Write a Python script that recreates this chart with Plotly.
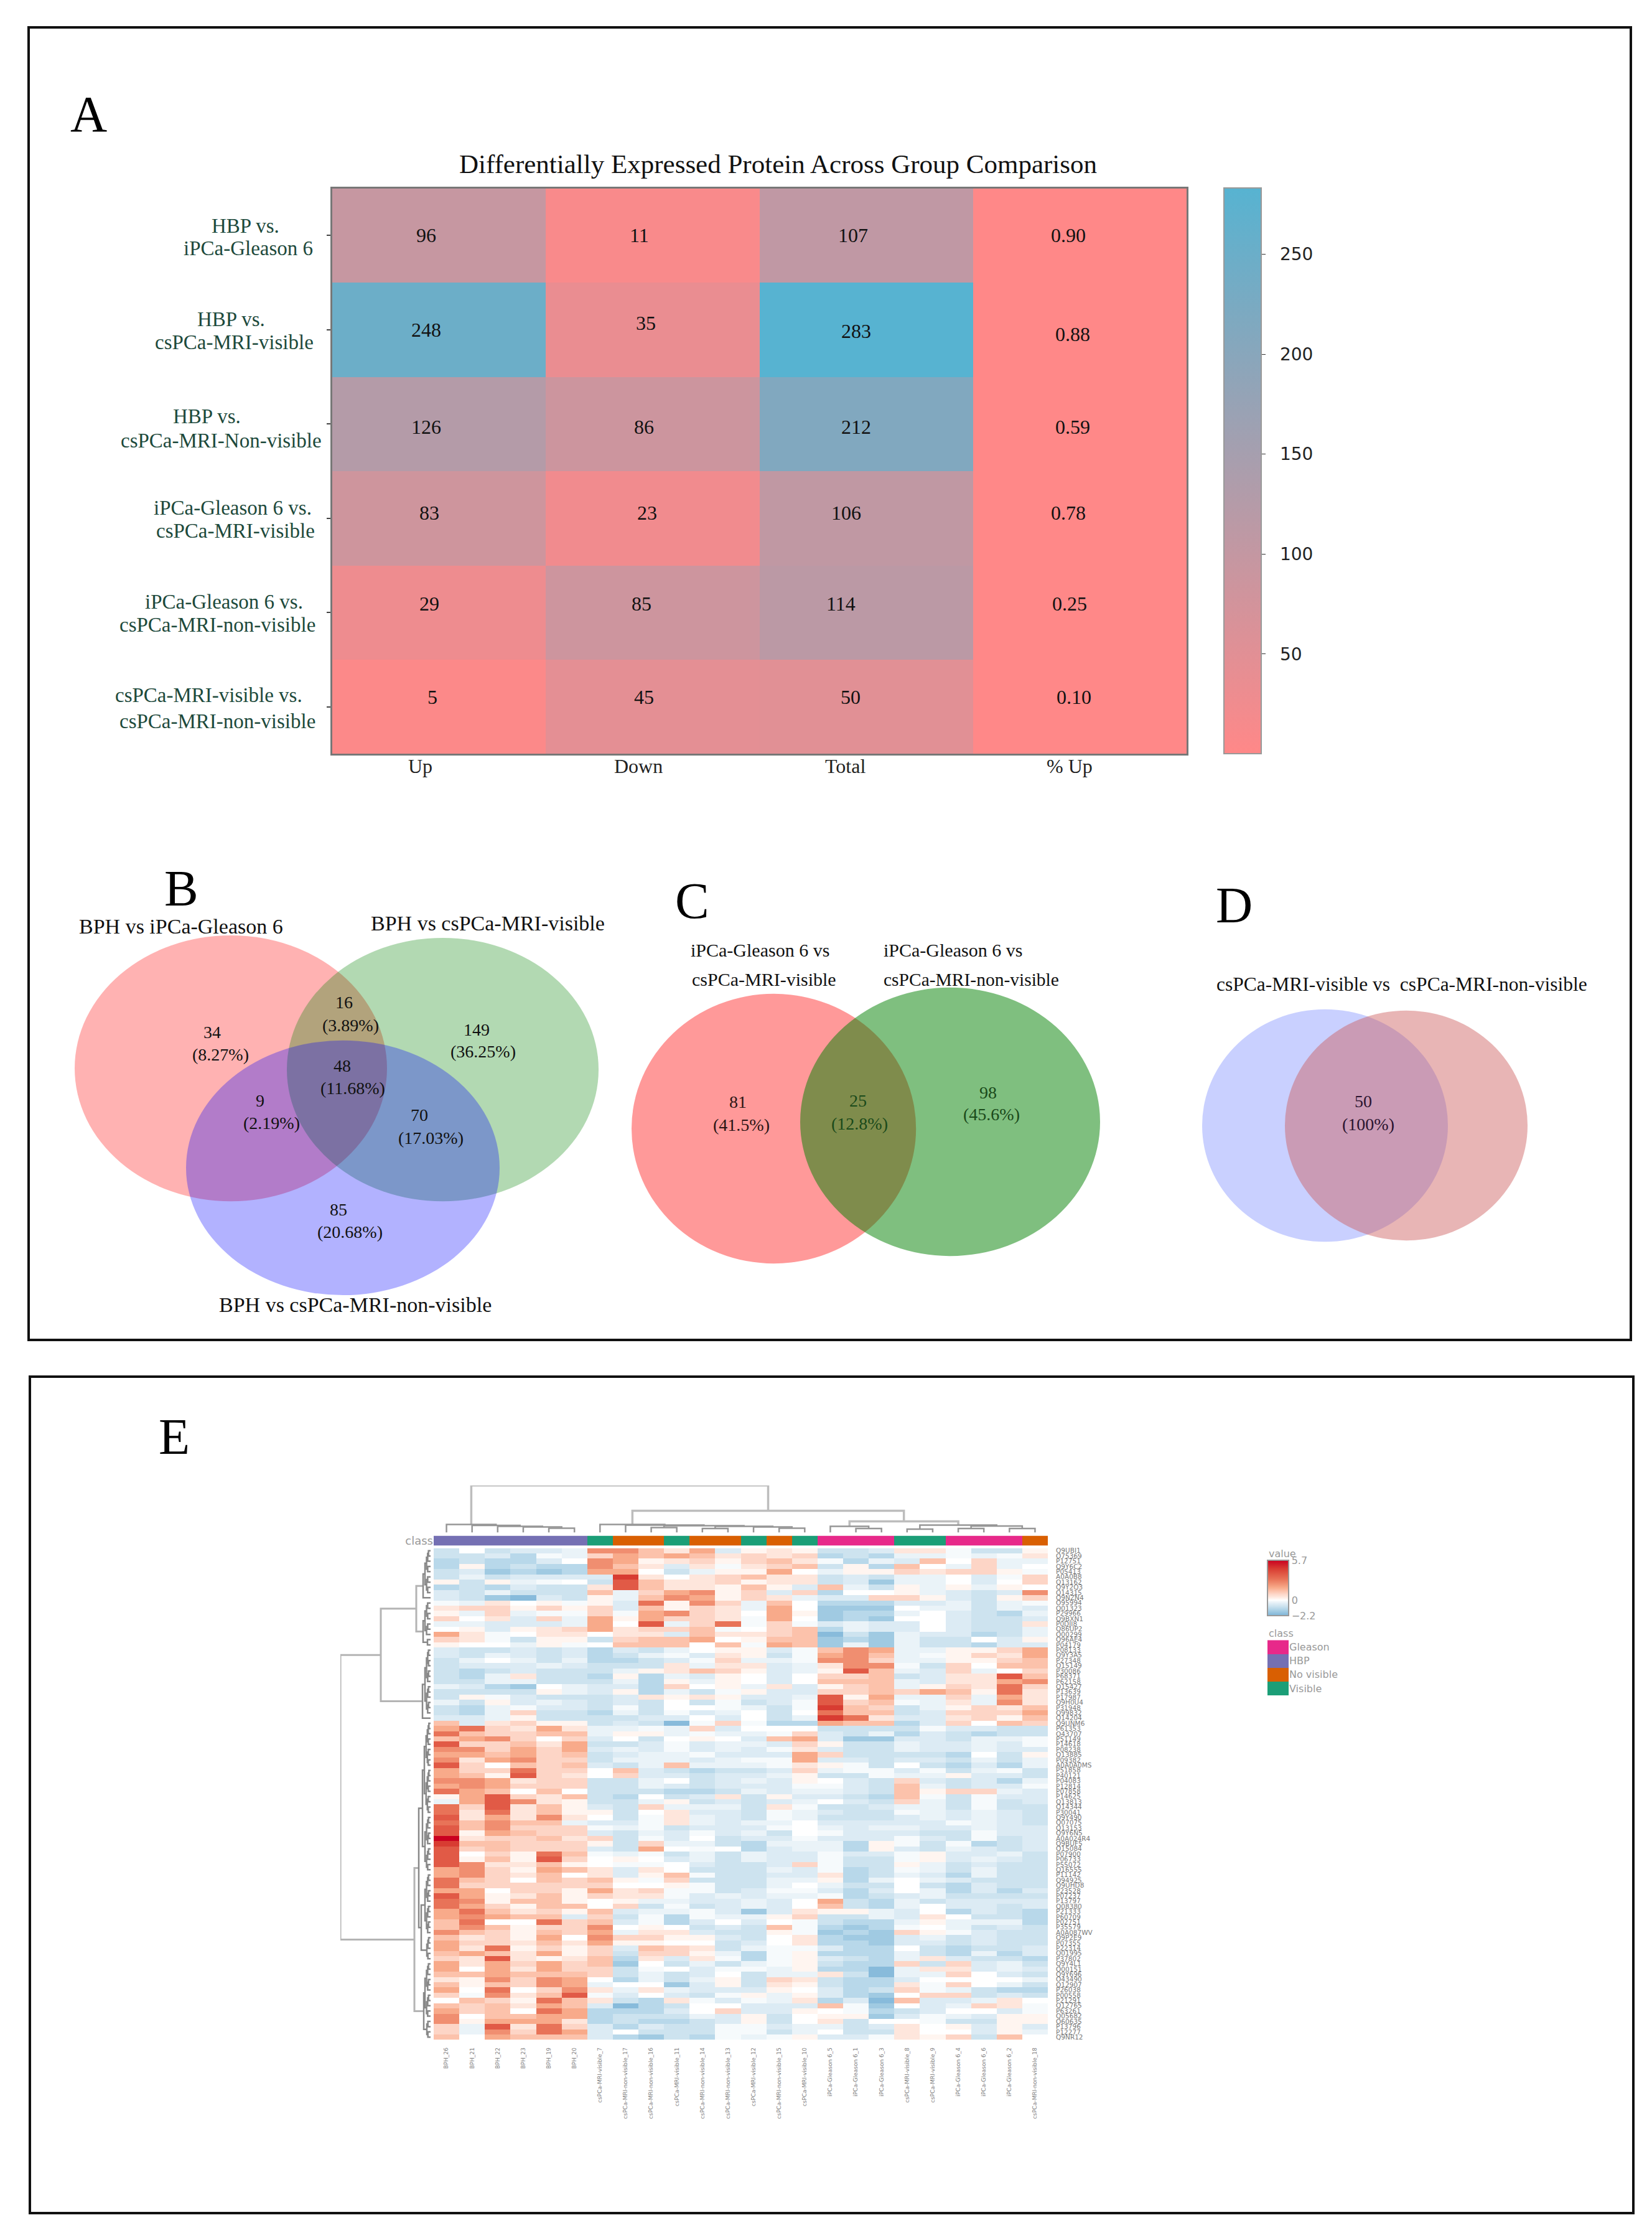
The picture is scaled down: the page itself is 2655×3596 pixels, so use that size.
import plotly.graph_objects as go

W, H = 2655, 3596
PAGE_PAD = 8  # the browser keeps an 8px body margin round the figure
SERIF = "Liberation Serif"
SANS = "DejaVu Sans"

# panel A values
comparisons = ["HBP vs. iPCa-Gleason 6", "HBP vs. csPCa-MRI-visible", "HBP vs. csPCa-MRI-Non-visible",
               "iPCa-Gleason 6 vs. csPCa-MRI-visible", "iPCa-Gleason 6 vs. csPCa-MRI-non-visible",
               "csPCa-MRI-visible vs. csPCa-MRI-non-visible"]
columns_a = ["Up", "Down", "Total", "% Up"]
up = [96, 248, 126, 83, 29, 5]
down = [11, 35, 86, 23, 85, 45]
total = [107, 283, 212, 106, 114, 50]
pct_up = [0.90, 0.88, 0.59, 0.78, 0.25, 0.10]

# venn counts, the percent text is as printed in the figure
venn_b = [("34", "(8.27%)"), ("16", "(3.89%)"), ("149", "(36.25%)"), ("48", "(11.68%)"),
          ("9", "(2.19%)"), ("70", "(17.03%)"), ("85", "(20.68%)")]
venn_c = [("81", "(41.5%)"), ("25", "(12.8%)"), ("98", "(45.6%)")]
venn_d = [("50", "(100%)")]

# panel E, one letter per cell, see heat_levels
heat_levels = {"A": -2.0, "B": -1.6, "C": -1.2, "D": -0.85, "E": -0.55, "F": -0.3, "G": -0.1, ".": 0.0,
               "a": 0.2, "b": 0.5, "c": 0.9, "d": 1.3, "e": 1.8, "f": 2.4, "g": 3.0, "h": 3.7, "i": 4.5, "j": 5.7}
heat_rows = [
    "D.DEEFffdbeEabaDDEbbGDDa", "DDECGFcededbcbcCDCFFGFGb", "CDCCE.feabcacdbGCFEd.cFF", "CaCDCCfdbEbGbcdDaCd.FcF.",
    "DEBCBCee.DFaae.FaacbccaG", "DFDEEEEib.bcdbbDEDFF.EGc", "aDaFG.DhdbbcabbDEBFF.E.c", "CDCEDDbhdbbadaEdFDaFaFa.",
    "EDFDDDdFcefacEcC..aFEDEf", "EDBAEDaFdfeacbFEEccaEDac", "GFb.aGaEgafcFd.CCCEEFDFG", "bccacacEdacbFe.BBB.FFDFE",
    "aFcFGGcGefcb.eaBCCF.EDCF", "c.bEcFeaeccbGe.BCB..EDDE", "FFEEEFe.hFcgGcGEFEE.EDDb", ".aEabcebccdG.cdCFEE.EDDF",
    "ebG.bb.bbEdbbcdADBFEECDF", "cbGDaaDcdde.addBCBFDD.Ea", "a..FaG.ddd.dGedBFBFDDCEE", "EDDEDECEDF.aaEGdfeFFaace",
    "EDFEDECDFGEbaDGefdFGacbe", "DF.FDFCCDEGcFFGffcFFaacd", "DEEEFEDDDbFbbEFbffGDc.dd", "DCDEDDDFabdcaEFahdFEcF.c",
    "DCFbDDCaCFEa.E.ccdDEbbhd", "DDFFDDDFCaFa.E.dddFEbbef", "FECB.FEECc.aFbEacdFacbgc", "DDDDaFEaCFDGaEEccdcedagb",
    "DaGEDDDEbabaEEFhaeFFcFeb", "FDaEFEDED.DGDEGhcdGFbFfb", "DCFGEEDGD..GFDGidcDFacbd", "DCFcDDCFDGEF.D.gddDEccce",
    "EEFaDDDDEE.E.DFigbEEbcad", "dEbcaaDEDAGcGCCeddCEc.dc", "egcbebFFGFcE...DDDDGEEDD", "gdccddFaaFGFFGcEDFCEDCDD",
    "defc.cE.D.a.EdeEBBEEDFFG", "hccdbeDDEGEFFEcaDDFEEFEG", "ffceceEFEGEFEGbEDDFEEFEE", "eedecdDEFFGEEEecDDDDC.Da",
    "fbefccDFFFEFGGeEEDEEDFDF", "hc.dcdEDFdFFFGbaGD.DCECF", "eccgcc.dEDCDDEcFGGEGDFGD", "edahcb.cEEDEEFaDDGFFaEED",
    "ffebccDDF.DEFEa.EDcEDECF", "efecccDDFEDEEEGGEDdFDEEG", "ged.d.DDDCCDFEFFEDdaccFE", "aehcbdDC.DEbDaEEDCdGDGEE",
    "FehfbaDDFaDEDEF.EDcFDGDE", "gchbdaEDcFFFDbGDDEFFDGDD", "gbgbdaaD.bEEDGFEDDGFEFED", "hbebfb.DGbFEDGFDDDEFEFED",
    "gdfddFEEGbFEFF.EEEEEGFED", "hdfcccGFGDEEEG.FEFFEEFEE", "haedccEDFEGEFD.GEEEDDGEE", "jbccdbcDGE.DEEGEEEGEDGDE",
    "iddcccaDcFFDCFFFCaGDGCDE", "hcdcccEDe.G.CEFFCaEDFEDE", "h.cagdGFGDFDFEEGEEGaEEFD", "hadahc.a.EFDFEEGDDGaEFED",
    "hfbbda.GG.EDDEcGDDaFDEDD", "efcaedbEb.DDDFEGCDGFDFDD", "efcbd.bEadGDDEEbCDFECFDD", "gdc.dcdaGcDDDFFaCF.FEDDD",
    "gcccccc..aGDDF.FDD.DCEDD", "ee.ccaebcGGDEGGECE.FCECE", "heabdacbbGEFEFFGCDEFDDDD", "gfadda.aFFEEFE.eDCFDEEEE",
    "gecadd.cDGDEFE.dDCF.EEDE", "egdbcadEFFGEBEbaaFE.CEDC", "efeddEcDGCGFFacDDFEb.DDC", "dg..gcdEGCE.E.GDCCFaFFFC",
    "dfdaccf.a.DEDdGCBCG.FDED", "fdcadceFbbEDDaGBCBcaGEDD", "dbcae.fccaaED.bCBBEFDEDD", "eccbdbeaa..DE.bCCBEEDEDD",
    "ebgacacEdcbDFGGECC.DCDDE", "dedbeacDccaFCGaCCCFDCFCE", "cbhbabdCbEbGCGaEDCFbEDDC", "ebececdB.DFDFGaDCCcDcEFD",
    "e.ebeccDG.EGGFaCCAFbbEFE", "ddedddcDFDE.DFFbDAFFc.ED", "bafcfe.CFDFaDcbDCCE....F", "dadcfeF..BEaDbaDCCbGc.FD",
    "e.g.cfbFbFEEEa.ECDcGFDCC", "cGfbdhGE.EDGaFaECB.ccDED", ".dcagdbDCbGEGFbCEAdEEFb.", "dcdbedEACD..EEEdGB.EFcbG",
    "ecd.geCCCE.cEEa.GCDE..EG", "f.ddeeCDDDFEaD.aaBEGFEaa", "faeeebCDCCDEaD.bD..GDDaa", "cFhbgcECEDDGGEFFDEb.aEaE",
    "cFfcgeE.DDDGGDF.DDb..EaF", "d.edddECBDCGFGaEEGbacDd.",
]
heat_z = [[heat_levels[c] for c in row] for row in heat_rows]

sample_names = ["BPH_26", "BPH_21", "BPH_22", "BPH_23", "BPH_19", "BPH_20",
                "csPCa-MRI-visible_7", "csPCa-MRI-non-visible_17", "csPCa-MRI-non-visible_16",
                "csPCa-MRI-visible_11", "csPCa-MRI-non-visible_14", "csPCa-MRI-non-visible_13",
                "csPCa-MRI-visible_12", "csPCa-MRI-non-visible_15", "csPCa-MRI-visible_10",
                "iPCa-Gleason 6_5", "iPCa-Gleason 6_1", "iPCa-Gleason 6_3",
                "csPCa-MRI-visible_8", "csPCa-MRI-visible_9",
                "iPCa-Gleason 6_4", "iPCa-Gleason 6_6", "iPCa-Gleason 6_2", "csPCa-MRI-non-visible_18"]
class_names = ["Gleason", "HBP", "No visible", "Visible"]
class_colors = ["#e7298a", "#7570b3", "#d95f02", "#1b9e77"]
sample_class = [1, 1, 1, 1, 1, 1, 3, 2, 2, 3, 2, 2, 3, 2, 3, 0, 0, 0, 3, 3, 0, 0, 0, 2]
protein_ids = ["Q9UBI1", "O75369", "P12751", "Q9Y6C2", "P05413", "A0A0B8", "Q13162", "Q9Y2Q3", "Q14315", "Q9NZN4",
               "O95994", "Q01323", "P29966", "Q9BXN1", "P0DJI8", "Q86UP2", "O00299", "Q96AE4", "P04179", "P08133",
               "Q9Y3A5", "P27348", "Q15149", "P30086", "P68371", "P62158", "Q15427", "P13639", "P17987", "Q9H0U4",
               "P31948", "Q99832", "Q14204", "Q9UNM6", "P61353", "O43707", "P51149", "P14618", "P08238", "Q13885",
               "P09382", "A0A0A0MS", "P51858", "P40121", "P04083", "P12814", "P07858", "P14625", "Q13813", "Q14344",
               "P30041", "Q9Y490", "Q07075", "Q13153", "Q9Y6N5", "A0A024R4", "Q9BUF5", "Q15084", "P07900", "P06733",
               "P55072", "Q16555", "P11142", "O94925", "Q9UHD8", "P23528", "P07237", "P13797", "Q08380", "P21333",
               "P60709", "P02751", "P35579", "A0A087WV", "Q9P2E9", "P07355", "P22314", "Q01995", "P37802", "Q9Y4L1",
               "O00151", "Q9Y696", "O43490", "Q12907", "P26038", "P00558", "P21291", "Q12765", "P63261", "Q05682",
               "O60635", "P13796", "P12277", "Q9NR12"]
protein_ids = protein_ids[:len(heat_rows)]

# dendrograms as (merge height, left, right), an int is a leaf
col_tree = (76,
            (13, 0, (11.5, 1, (10, 2, (9, 3, (7, 4, 5))))),
            (35,
             (13, 6, (12, 7, (11, (8, 8, 9), (10, (6.5, 10, 11), (9, 12, (7, 13, 14)))))),
             (18,
              (10, 15, (6.5, 16, 17)),
              (12, (5.5, 18, 19), (10.5, (6.5, 20, 21), (6.5, 22, 23))))))


def span(lo, hi, h):
    # the fine merges of the row tree cannot be read, so each leaf run is a plain bracket ladder
    if lo == hi:
        return lo
    mid = (lo + hi) // 2
    return (h, span(lo, mid, h * 0.72), span(mid + 1, hi, h * 0.72))


row_tree = (145,
            (80,
             (23, (12, span(0, 8, 9), 9), (12, span(10, 16, 9), span(17, 18, 5))),
             (13, span(19, 31, 9), 32)),
            (26,
             (19,
              (13, span(33, 50, 10), span(51, 61, 9)),
              (15, span(62, 73, 9), span(74, 78, 6))),
             (11, span(79, 89, 9), span(90, 93, 6))))


def fx(px):
    return (px - PAGE_PAD) / (W - 2 * PAGE_PAD)


def fy(py):
    return 1 - (py - PAGE_PAD) / (H - 2 * PAGE_PAD)


def tree_lines(tree, cut, horizontal=False):
    # walks a merge tree, returns two bracket polylines: fine merges below cut, coarse ones above
    fine, coarse = ([], []), ([], [])

    def walk(node):
        if isinstance(node, int):
            return node, 0
        h, a, b = node
        pa, ha = walk(a)
        pb, hb = walk(b)
        xs, ys = coarse if h >= cut else fine
        xs.extend([pa, pa, pb, pb, None])
        ys.extend([ha, h, h, hb, None])
        return (pa + pb) / 2, h

    walk(tree)
    if horizontal:
        return (fine[1], fine[0]), (coarse[1], coarse[0])
    return fine, coarse


fig = go.Figure()

# panel A
z_a = [[up[i], down[i], total[i], pct_up[i]] for i in range(len(up))]
fig.add_trace(go.Heatmap(
    z=z_a, x=list(range(4)), y=list(range(6)), xaxis="x", yaxis="y", zmin=0.1, zmax=283,
    colorscale=[[0, "#ff8888"], [1, "#57b3d1"]], hoverinfo="skip",
    colorbar=dict(x=fx(1967), xanchor="left", xpad=0, y=fy(1210), yanchor="bottom", ypad=0,
                  len=910 / (H - 2 * PAGE_PAD), lenmode="fraction", thickness=60, thicknessmode="pixels",
                  tickvals=[50, 100, 150, 200, 250],
                  ticktext=["\u00a0\u00a050", "\u00a0\u00a0100", "\u00a0\u00a0150", "\u00a0\u00a0200", "\u00a0\u00a0250"],
                  ticks="outside", ticklen=6, tickcolor="#333",
                  tickfont=dict(family=SANS, size=28, color="#222"), outlinecolor="#999", outlinewidth=2),
))

# panel E
scale_vals = [-2.2, -2.0, -1.6, -1.2, -0.85, -0.55, -0.3, -0.1, 0, 0.2, 0.5, 0.9, 1.3, 1.8, 2.4, 3.0, 3.7, 4.5, 5.7]
scale_cols = ["#7fb5d8", "#88bbdb", "#a0cae2", "#b8d8ea", "#cde3ef", "#dcebf4", "#eaf3f8", "#f6fafc", "#ffffff",
              "#fff5f0", "#fee6dc", "#fdd5c6", "#fcc2ab", "#f8aa8a", "#f08e70", "#e87358", "#e15a46", "#d83c32", "#ca0020"]
heat_scale = [[(v + 2.2) / 7.9, c] for v, c in zip(scale_vals, scale_cols)]
fig.add_trace(go.Heatmap(
    z=heat_z, x=list(range(24)), y=list(range(len(heat_rows))), xaxis="x2", yaxis="y2", zmin=-2.2, zmax=5.7,
    colorscale=heat_scale, hoverinfo="skip",
    colorbar=dict(x=fx(2037), xanchor="left", xpad=0, y=fy(2597), yanchor="bottom", ypad=0,
                  len=89 / (H - 2 * PAGE_PAD), lenmode="fraction", thickness=34, thicknessmode="pixels",
                  tickvals=[-2.2, 0, 5.7], ticktext=["\u22122.2", "0", "5.7"], ticks="",
                  tickfont=dict(family=SANS, size=16, color="#999"), outlinecolor="#999", outlinewidth=2),
))
discrete = []
for i, c in enumerate(class_colors):
    discrete += [[i / 4, c], [(i + 1) / 4, c]]
fig.add_trace(go.Heatmap(z=[sample_class], x=list(range(24)), y=["class"], xaxis="x3", yaxis="y3", zmin=0, zmax=4,
                         colorscale=discrete, showscale=False, hoverinfo="skip"))
fig.add_trace(go.Heatmap(z=[[i + 0.5] for i in range(4)], y=class_names, xaxis="x6", yaxis="y6", zmin=0, zmax=4,
                         colorscale=discrete, showscale=False, hoverinfo="skip"))

fine, coarse = tree_lines(col_tree, 14)
fig.add_trace(go.Scatter(x=coarse[0], y=coarse[1], mode="lines", xaxis="x4", yaxis="y4", showlegend=False,
                         hoverinfo="skip", line=dict(color="#bdbdbd", width=3.5)))
fig.add_trace(go.Scatter(x=fine[0], y=fine[1], mode="lines", xaxis="x4", yaxis="y4", showlegend=False,
                         hoverinfo="skip", line=dict(color="#969696", width=2.5)))
fine, coarse = tree_lines(row_tree, 20, horizontal=True)
fig.add_trace(go.Scatter(x=coarse[0], y=coarse[1], mode="lines", xaxis="x5", yaxis="y5", showlegend=False,
                         hoverinfo="skip", line=dict(color="#b4b4b4", width=3)))
fig.add_trace(go.Scatter(x=fine[0], y=fine[1], mode="lines", xaxis="x5", yaxis="y5", showlegend=False,
                         hoverinfo="skip", line=dict(color="#888888", width=2.5)))

hidden = dict(visible=False)
fig.update_layout(
    width=W - 2 * PAGE_PAD, height=H - 2 * PAGE_PAD, margin=dict(l=0, r=0, t=0, b=0),
    paper_bgcolor="white", plot_bgcolor="white", showlegend=False,
    xaxis=dict(domain=[fx(534), fx(1907)], range=[-0.5, 3.5], showticklabels=False, ticks="",
               showline=True, mirror=True, linecolor="#777", linewidth=3, showgrid=False, zeroline=False),
    yaxis=dict(domain=[fy(1210), fy(300)], range=[5.5, -0.5], tickvals=list(range(6)), showticklabels=False,
               ticks="outside", ticklen=6, tickcolor="#444", tickwidth=2,
               showline=True, mirror=True, linecolor="#777", linewidth=3, showgrid=False, zeroline=False),
    xaxis2=dict(domain=[fx(697), fx(1684)], range=[-0.5, 23.5], tickvals=list(range(24)), ticktext=sample_names,
                tickangle=-90, ticks="outside", ticklen=8, tickcolor="rgba(0,0,0,0)", anchor="y2",
                tickfont=dict(family=SANS, size=9, color="#808080"), showgrid=False, zeroline=False),
    yaxis2=dict(domain=[fy(3279), fy(2488)], range=[len(heat_rows) - 0.5, -0.5], tickvals=list(range(len(heat_rows))),
                ticktext=protein_ids, side="right", anchor="x2", ticks="outside", ticklen=10,
                tickcolor="rgba(0,0,0,0)", tickfont=dict(family=SANS, size=10.5, color="#777"),
                showgrid=False, zeroline=False),
    xaxis3=dict(domain=[fx(697), fx(1684)], range=[-0.5, 23.5], anchor="y3", **hidden),
    yaxis3=dict(domain=[fy(2484), fy(2468)], anchor="x3", tickfont=dict(family=SANS, size=18, color="#999"),
                ticks="", ticklen=0, showgrid=False, zeroline=False),
    xaxis4=dict(domain=[fx(697), fx(1684)], range=[-0.5, 23.5], anchor="y4", **hidden),
    yaxis4=dict(domain=[fy(2463), fy(2387)], range=[0, 76], anchor="x4", **hidden),
    xaxis5=dict(domain=[fx(547), fx(692)], range=[145, 0], anchor="y5", **hidden),
    yaxis5=dict(domain=[fy(3279), fy(2488)], range=[len(heat_rows) - 0.5, -0.5], anchor="x5", **hidden),
    xaxis6=dict(domain=[fx(2037), fx(2071)], anchor="y6", **hidden),
    yaxis6=dict(domain=[fy(2725), fy(2636)], autorange="reversed", side="right", anchor="x6", ticks="",
                tickfont=dict(family=SANS, size=16, color="#999"), showgrid=False, zeroline=False,
                categoryorder="array", categoryarray=class_names),
)

notes = []


def page_text(text, px, py, size, color="#111", family=SERIF, anchor="center"):
    notes.append(dict(text=text, x=fx(px), y=fy(py), xref="paper", yref="paper", showarrow=False, xanchor=anchor,
                      yanchor="middle", font=dict(family=family, size=size, color=color)))


# cell numbers in panel A sit a little off the cell centres in the source
cell_dx = [[-21, -21, -21, -18], [-21, -11, -16, -11], [-21, -14, -16, -11],
           [-16, -9, -32, -18], [-16, -18, -41, -16], [-11, -14, -25, -9]]
cell_dy = [[0, 0, 0, 0], [0, 11, -2, -7], [-5, -5, -5, -5], [9, 9, 9, 9], [14, 14, 14, 14], [16, 16, 16, 16]]
for i in range(6):
    for j in range(4):
        label = f"{z_a[i][j]:.2f}" if j == 3 else str(z_a[i][j])
        notes.append(dict(text=label, x=j, y=i, xref="x", yref="y", xshift=cell_dx[i][j], yshift=cell_dy[i][j],
                          showarrow=False, font=dict(family=SERIF, size=32, color="#111")))

col_dx = [-30, -23, -34, -16]
for j, name in enumerate(columns_a):
    notes.append(dict(text=name, x=j, y=fy(1230), xref="x", yref="paper", xshift=col_dx[j], showarrow=False,
                      font=dict(family=SERIF, size=32, color="#222")))

tick_lines = [("HBP vs.", 394, 360), ("iPCa-Gleason 6", 399, 397),
              ("HBP vs.", 371, 511), ("csPCa-MRI-visible", 376, 548),
              ("HBP vs.", 332, 667), ("csPCa-MRI-Non-visible", 355, 706),
              ("iPCa-Gleason 6 vs.", 374, 814), ("csPCa-MRI-visible", 378, 851),
              ("iPCa-Gleason 6 vs.", 360, 965), ("csPCa-MRI-non-visible", 349, 1002),
              ("csPCa-MRI-visible vs.", 335, 1116), ("csPCa-MRI-non-visible", 349, 1158)]
for text, px, py in tick_lines:
    page_text(text, px, py, 33, color="#1d4a3c")

page_text("Differentially Expressed Protein Across Group Comparison", 1250, 261, 43)
for letter, px, py in [("A", 142, 181), ("B", 291, 1426), ("C", 1112, 1447), ("D", 1983, 1454), ("E", 280, 2309)]:
    page_text(letter, px, py, 82, color="#000")

page_text("BPH vs iPCa-Gleason 6", 291, 1488, 34)
page_text("BPH vs csPCa-MRI-visible", 784, 1483, 34)
page_text("BPH vs csPCa-MRI-non-visible", 571, 2096, 34)
page_text("iPCa-Gleason 6 vs", 1221, 1526, 30)
page_text("csPCa-MRI-visible", 1228, 1573, 30)
page_text("iPCa-Gleason 6 vs", 1531, 1526, 30)
page_text("csPCa-MRI-non-visible", 1561, 1573, 29.5)
page_text("csPCa-MRI-visible vs  csPCa-MRI-non-visible", 2253, 1581, 31.5)

venn_b_pos = [(341, 1658, 354, 1694), (553, 1610, 563, 1647), (766, 1654, 776, 1689), (550, 1712, 567, 1748),
              (418, 1768, 436, 1804), (674, 1791, 692, 1828), (544, 1943, 562, 1979)]
for (n, p), (x1, y1, x2, y2) in zip(venn_b, venn_b_pos):
    page_text(n, x1, y1, 28)
    page_text(p, x2, y2, 28)
venn_c_pos = [(1186, 1770, 1191, 1807, "#2a1414"), (1379, 1768, 1381, 1805, "#1a4a1a"), (1588, 1755, 1593, 1790, "#1a4a1a")]
for (n, p), (x1, y1, x2, y2, col) in zip(venn_c, venn_c_pos):
    page_text(n, x1, y1, 28, color=col)
    page_text(p, x2, y2, 28, color=col)
page_text(venn_d[0][0], 2191, 1769, 28, color="#2a1430")
page_text(venn_d[0][1], 2199, 1806, 28, color="#2a1430")

page_text("value", 2037, 2497, 16, color="#999", family=SANS, anchor="left")
page_text("class", 2037, 2625, 16, color="#999", family=SANS, anchor="left")

# venn ellipses: centre x, centre y, radius x, radius y, fill
venn_shapes = [(371, 1716, 251, 214, "rgba(255,0,0,0.3)"), (711.5, 1718, 250.5, 212, "rgba(0,128,0,0.3)"),
               (551, 1876, 252, 205, "rgba(0,0,255,0.3)"),
               (1243.6, 1813, 228.6, 217, "rgba(255,0,0,0.4)"), (1527, 1802, 241, 216, "rgba(0,128,0,0.5)"),
               (2129.5, 1808, 197.5, 187, "rgba(100,120,255,0.35)"), (2260, 1808, 195, 185, "rgba(205,92,92,0.45)")]
shapes = []
for cx, cy, rx, ry, fill in venn_shapes:
    shapes.append(dict(type="circle", xref="paper", yref="paper", x0=fx(cx - rx), x1=fx(cx + rx), y0=fy(cy + ry),
                       y1=fy(cy - ry), fillcolor=fill, line=dict(width=0)))
for x0, y0, x1, y1 in [(46, 41, 2621, 2153), (48, 2212, 2625, 3558)]:
    shapes.append(dict(type="rect", xref="paper", yref="paper", x0=fx(x0), x1=fx(x1), y0=fy(y1), y1=fy(y0),
                       line=dict(color="#111", width=4), fillcolor="rgba(0,0,0,0)"))

fig.update_layout(annotations=notes, shapes=shapes)
fig.write_html("out.html")
